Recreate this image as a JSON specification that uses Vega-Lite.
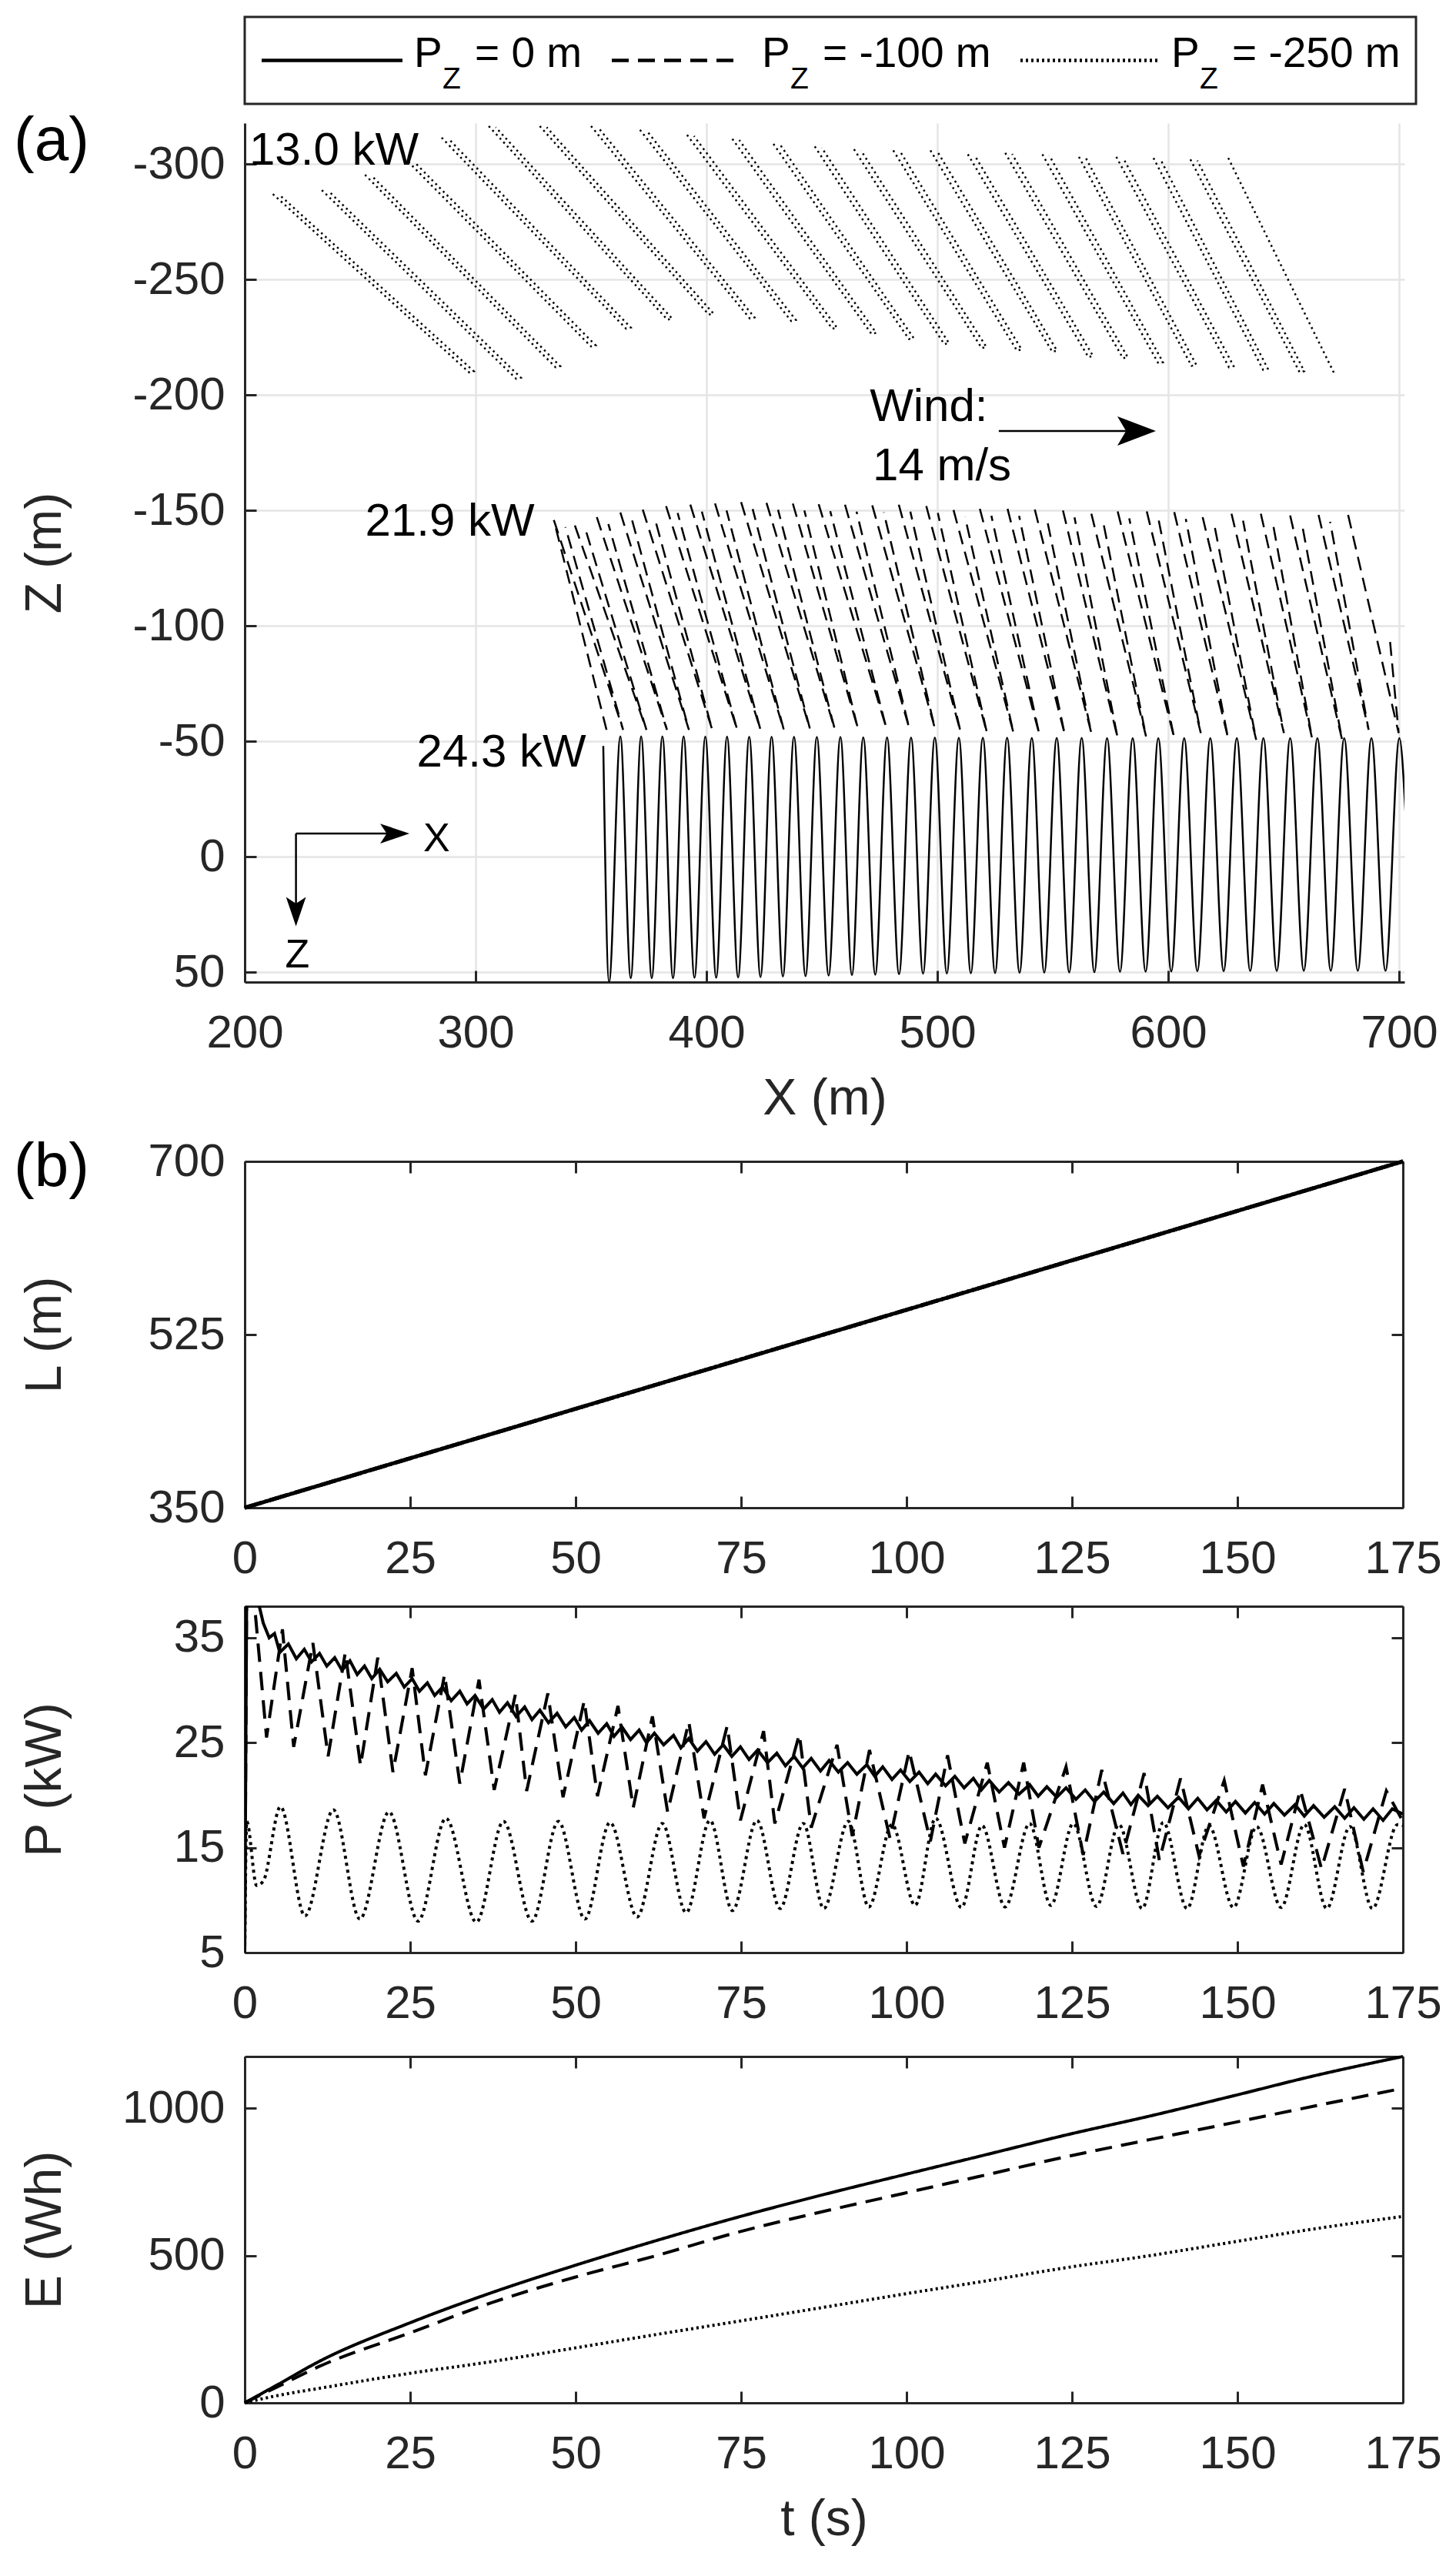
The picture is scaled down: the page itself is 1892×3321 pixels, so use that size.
{
  "$schema": "https://vega.github.io/schema/vega-lite/v6.json",
  "padding": {"left": 18, "top": 20, "right": 10, "bottom": 10},
  "bounds": "flush",
  "spacing": 0,
  "datasets": {
    "legend": [
      {"series": "0", "start": 22, "end": 205, "text_at": 220, "rest": "= 0 m"},
      {"series": "-100", "start": 477, "end": 637, "text_at": 672, "rest": "= -100 m"},
      {"series": "-250", "start": 1008, "end": 1186, "text_at": 1204, "rest": "= -250 m"}
    ],
    "traj_solid": [
      {"X": 355.3, "Z": -48}, {"X": 357.8, "Z": 54.2}, {"X": 362.7, "Z": -52.2}, {"X": 367.2, "Z": 52.5},
      {"X": 371.7, "Z": -52.2}, {"X": 376.3, "Z": 52.5}, {"X": 380.9, "Z": -52.2}, {"X": 385.5, "Z": 52.5},
      {"X": 390.1, "Z": -52.2}, {"X": 394.8, "Z": 52.3}, {"X": 399.5, "Z": -52.1}, {"X": 404.2, "Z": 52.3},
      {"X": 408.9, "Z": -52.1}, {"X": 413.7, "Z": 52.2}, {"X": 418.5, "Z": -52}, {"X": 423.4, "Z": 52},
      {"X": 428.2, "Z": -52}, {"X": 433.1, "Z": 51.8}, {"X": 437.9, "Z": -52}, {"X": 442.9, "Z": 51.6},
      {"X": 447.8, "Z": -51.9}, {"X": 452.9, "Z": 51.4}, {"X": 458.0, "Z": -51.9}, {"X": 463.0, "Z": 51.2},
      {"X": 467.9, "Z": -51.8}, {"X": 473.1, "Z": 51.0}, {"X": 478.2, "Z": -51.8}, {"X": 483.4, "Z": 50.8},
      {"X": 488.6, "Z": -51.7}, {"X": 493.8, "Z": 50.6}, {"X": 498.9, "Z": -51.7}, {"X": 504.1, "Z": 50.5},
      {"X": 509.3, "Z": -51.6}, {"X": 514.5, "Z": 50.4}, {"X": 519.7, "Z": -51.6}, {"X": 525.0, "Z": 50.3},
      {"X": 530.2, "Z": -51.6}, {"X": 535.6, "Z": 50.2}, {"X": 540.9, "Z": -51.5}, {"X": 546.3, "Z": 50.1},
      {"X": 551.7, "Z": -51.5}, {"X": 557.1, "Z": 50.0}, {"X": 562.5, "Z": -51.5}, {"X": 568.0, "Z": 49.9},
      {"X": 573.5, "Z": -51.4}, {"X": 579.1, "Z": 49.8}, {"X": 584.6, "Z": -51.4}, {"X": 590.2, "Z": 49.7},
      {"X": 595.7, "Z": -51.4}, {"X": 601.3, "Z": 49.6}, {"X": 606.9, "Z": -51.4}, {"X": 612.6, "Z": 49.5},
      {"X": 618.2, "Z": -51.4}, {"X": 624.0, "Z": 49.5}, {"X": 629.7, "Z": -51.4}, {"X": 635.5, "Z": 49.4},
      {"X": 641.2, "Z": -51.4}, {"X": 647.0, "Z": 49.4}, {"X": 652.8, "Z": -51.4}, {"X": 658.7, "Z": 49.3},
      {"X": 664.6, "Z": -51.4}, {"X": 670.4, "Z": 49.3}, {"X": 676.2, "Z": -51.4}, {"X": 682.1, "Z": 49.3},
      {"X": 688.0, "Z": -51.4}, {"X": 694.1, "Z": 49.3}, {"X": 700.1, "Z": -51.4}, {"X": 702.9, "Z": -16}
    ],
    "traj_dashed": [
      {"loop": 0, "X": 356.7, "Z": -55}, {"loop": 0, "X": 333.9, "Z": -145.8},
      {"loop": 1, "X": 333.9, "Z": -145.8}, {"loop": 1, "X": 363.9, "Z": -55}, {"loop": 1, "X": 338.9, "Z": -142.8},
      {"loop": 2, "X": 343.0, "Z": -143.5}, {"loop": 2, "X": 374.0, "Z": -55}, {"loop": 2, "X": 348.0, "Z": -140.5},
      {"loop": 3, "X": 352.5, "Z": -147.1}, {"loop": 3, "X": 382.9, "Z": -55}, {"loop": 3, "X": 357.5, "Z": -144.1},
      {"loop": 4, "X": 362.7, "Z": -149.1}, {"loop": 4, "X": 392.4, "Z": -55}, {"loop": 4, "X": 367.7, "Z": -146.1},
      {"loop": 5, "X": 372.4, "Z": -150.4}, {"loop": 5, "X": 402.5, "Z": -55}, {"loop": 5, "X": 377.4, "Z": -147.4},
      {"loop": 6, "X": 382.5, "Z": -151.9}, {"loop": 6, "X": 413.3, "Z": -55}, {"loop": 6, "X": 387.5, "Z": -148.9},
      {"loop": 7, "X": 393.0, "Z": -152.5}, {"loop": 7, "X": 423.4, "Z": -55}, {"loop": 7, "X": 398.0, "Z": -149.5},
      {"loop": 8, "X": 403.7, "Z": -153.0}, {"loop": 8, "X": 433.5, "Z": -55}, {"loop": 8, "X": 408.7, "Z": -150.0},
      {"loop": 9, "X": 415.0, "Z": -153.6}, {"loop": 9, "X": 444.8, "Z": -55.5}, {"loop": 9, "X": 420.0, "Z": -150.6},
      {"loop": 10, "X": 426.0, "Z": -153.3}, {"loop": 10, "X": 455.5, "Z": -55.5}, {"loop": 10, "X": 431.0, "Z": -150.3},
      {"loop": 11, "X": 437.4, "Z": -153.0}, {"loop": 11, "X": 465.6, "Z": -55.5}, {"loop": 11, "X": 442.4, "Z": -150.0},
      {"loop": 12, "X": 448.6, "Z": -152.7}, {"loop": 12, "X": 477.9, "Z": -55.8}, {"loop": 12, "X": 453.6, "Z": -149.7},
      {"loop": 13, "X": 460.0, "Z": -152.5}, {"loop": 13, "X": 487.8, "Z": -55.8}, {"loop": 13, "X": 465.0, "Z": -149.5},
      {"loop": 14, "X": 471.8, "Z": -152.2}, {"loop": 14, "X": 498.9, "Z": -55.8}, {"loop": 14, "X": 476.8, "Z": -149.2},
      {"loop": 15, "X": 483.3, "Z": -152.5}, {"loop": 15, "X": 510.0, "Z": -54.3}, {"loop": 15, "X": 488.3, "Z": -149.5},
      {"loop": 16, "X": 495.2, "Z": -151.9}, {"loop": 16, "X": 521.5, "Z": -53.6}, {"loop": 16, "X": 500.2, "Z": -148.9},
      {"loop": 17, "X": 507.0, "Z": -150.2}, {"loop": 17, "X": 533.0, "Z": -53.6}, {"loop": 17, "X": 512.0, "Z": -147.2},
      {"loop": 18, "X": 518.4, "Z": -150.7}, {"loop": 18, "X": 544.2, "Z": -52.9}, {"loop": 18, "X": 523.4, "Z": -147.7},
      {"loop": 19, "X": 530.4, "Z": -150.7}, {"loop": 19, "X": 555.2, "Z": -52.9}, {"loop": 19, "X": 535.4, "Z": -147.7},
      {"loop": 20, "X": 542.2, "Z": -150.4}, {"loop": 20, "X": 566.7, "Z": -53.6}, {"loop": 20, "X": 547.2, "Z": -147.4},
      {"loop": 21, "X": 554.4, "Z": -150.0}, {"loop": 21, "X": 578.1, "Z": -51.4}, {"loop": 21, "X": 559.4, "Z": -147.0},
      {"loop": 22, "X": 566.7, "Z": -148.6}, {"loop": 22, "X": 590.4, "Z": -52.1}, {"loop": 22, "X": 571.7, "Z": -145.6},
      {"loop": 23, "X": 578.1, "Z": -149.6}, {"loop": 23, "X": 602.6, "Z": -51.4}, {"loop": 23, "X": 583.1, "Z": -146.6},
      {"loop": 24, "X": 590.7, "Z": -149.6}, {"loop": 24, "X": 614.1, "Z": -53.6}, {"loop": 24, "X": 595.7, "Z": -146.6},
      {"loop": 25, "X": 602.6, "Z": -149.3}, {"loop": 25, "X": 625.9, "Z": -51.4}, {"loop": 25, "X": 607.6, "Z": -146.3},
      {"loop": 26, "X": 614.9, "Z": -147.1}, {"loop": 26, "X": 638.1, "Z": -50.7}, {"loop": 26, "X": 619.9, "Z": -144.1},
      {"loop": 27, "X": 627.4, "Z": -148.6}, {"loop": 27, "X": 650.1, "Z": -53.6}, {"loop": 27, "X": 632.4, "Z": -145.6},
      {"loop": 28, "X": 640.1, "Z": -148.6}, {"loop": 28, "X": 662.3, "Z": -51.4}, {"loop": 28, "X": 645.1, "Z": -145.6},
      {"loop": 29, "X": 652.8, "Z": -147.8}, {"loop": 29, "X": 675.3, "Z": -50.7}, {"loop": 29, "X": 657.8, "Z": -144.8},
      {"loop": 30, "X": 665.1, "Z": -148.1}, {"loop": 30, "X": 686.8, "Z": -55.0}, {"loop": 30, "X": 670.1, "Z": -145.1},
      {"loop": 31, "X": 677.9, "Z": -148.1}, {"loop": 31, "X": 699.8, "Z": -53.6}, {"loop": 31, "X": 696.0, "Z": -94.0}
    ],
    "traj_dotted": [
      {"loop": 1, "X": 212.2, "Z": -287.0}, {"loop": 1, "X": 297.2, "Z": -209.8}, {"loop": 1, "X": 299.2, "Z": -210.3}, {"loop": 1, "X": 215.2, "Z": -286.5},
      {"loop": 2, "X": 233.4, "Z": -288.7}, {"loop": 2, "X": 317.6, "Z": -207.0}, {"loop": 2, "X": 319.6, "Z": -207.5}, {"loop": 2, "X": 236.4, "Z": -288.2},
      {"loop": 3, "X": 252.1, "Z": -295.3}, {"loop": 3, "X": 334.6, "Z": -212.0}, {"loop": 3, "X": 336.6, "Z": -212.5}, {"loop": 3, "X": 255.1, "Z": -294.8},
      {"loop": 4, "X": 270.9, "Z": -300.9}, {"loop": 4, "X": 350.0, "Z": -221.0}, {"loop": 4, "X": 352.0, "Z": -221.5}, {"loop": 4, "X": 273.9, "Z": -300.4},
      {"loop": 5, "X": 285.3, "Z": -311.4}, {"loop": 5, "X": 365.2, "Z": -228.7}, {"loop": 5, "X": 367.2, "Z": -229.2}, {"loop": 5, "X": 288.3, "Z": -310.9},
      {"loop": 6, "X": 305.7, "Z": -316.4}, {"loop": 6, "X": 383.1, "Z": -232.6}, {"loop": 6, "X": 385.1, "Z": -233.1}, {"loop": 6, "X": 308.7, "Z": -315.9},
      {"loop": 7, "X": 327.8, "Z": -316.4}, {"loop": 7, "X": 401.0, "Z": -234.8}, {"loop": 7, "X": 403.0, "Z": -235.3}, {"loop": 7, "X": 330.8, "Z": -315.9},
      {"loop": 8, "X": 350.0, "Z": -316.4}, {"loop": 8, "X": 418.8, "Z": -233.1}, {"loop": 8, "X": 420.8, "Z": -233.6}, {"loop": 8, "X": 353.0, "Z": -315.9},
      {"loop": 9, "X": 371.2, "Z": -314.8}, {"loop": 9, "X": 436.7, "Z": -232.0}, {"loop": 9, "X": 438.7, "Z": -232.5}, {"loop": 9, "X": 374.2, "Z": -314.3},
      {"loop": 10, "X": 391.6, "Z": -312.6}, {"loop": 10, "X": 454.5, "Z": -228.7}, {"loop": 10, "X": 456.5, "Z": -229.2}, {"loop": 10, "X": 394.6, "Z": -312.1},
      {"loop": 11, "X": 411.2, "Z": -310.9}, {"loop": 11, "X": 471.5, "Z": -226.4}, {"loop": 11, "X": 473.5, "Z": -226.9}, {"loop": 11, "X": 414.2, "Z": -310.4},
      {"loop": 12, "X": 429.0, "Z": -308.7}, {"loop": 12, "X": 487.7, "Z": -224.2}, {"loop": 12, "X": 489.7, "Z": -224.7}, {"loop": 12, "X": 432.0, "Z": -308.2},
      {"loop": 13, "X": 446.9, "Z": -307.6}, {"loop": 13, "X": 503.0, "Z": -222.0}, {"loop": 13, "X": 505.0, "Z": -222.5}, {"loop": 13, "X": 449.9, "Z": -307.1},
      {"loop": 14, "X": 463.9, "Z": -306.4}, {"loop": 14, "X": 519.2, "Z": -220.3}, {"loop": 14, "X": 521.2, "Z": -220.8}, {"loop": 14, "X": 466.9, "Z": -305.9},
      {"loop": 15, "X": 480.9, "Z": -305.9}, {"loop": 15, "X": 534.5, "Z": -219.2}, {"loop": 15, "X": 536.5, "Z": -219.7}, {"loop": 15, "X": 483.9, "Z": -305.4},
      {"loop": 16, "X": 497.0, "Z": -305.9}, {"loop": 16, "X": 549.8, "Z": -218.7}, {"loop": 16, "X": 551.8, "Z": -219.2}, {"loop": 16, "X": 500.0, "Z": -305.4},
      {"loop": 17, "X": 513.2, "Z": -304.2}, {"loop": 17, "X": 565.4, "Z": -216.4}, {"loop": 17, "X": 567.4, "Z": -216.9}, {"loop": 17, "X": 516.2, "Z": -303.7},
      {"loop": 18, "X": 529.4, "Z": -304.8}, {"loop": 18, "X": 580.4, "Z": -215.9}, {"loop": 18, "X": 582.4, "Z": -216.4}, {"loop": 18, "X": 532.4, "Z": -304.3},
      {"loop": 19, "X": 545.5, "Z": -304.2}, {"loop": 19, "X": 595.7, "Z": -213.7}, {"loop": 19, "X": 597.7, "Z": -214.2}, {"loop": 19, "X": 548.5, "Z": -303.7},
      {"loop": 20, "X": 561.3, "Z": -303.1}, {"loop": 20, "X": 610.1, "Z": -212.6}, {"loop": 20, "X": 612.1, "Z": -213.1}, {"loop": 20, "X": 564.3, "Z": -302.6},
      {"loop": 21, "X": 577.5, "Z": -303.1}, {"loop": 21, "X": 626.3, "Z": -212.0}, {"loop": 21, "X": 628.3, "Z": -212.5}, {"loop": 21, "X": 580.5, "Z": -302.6},
      {"loop": 22, "X": 593.6, "Z": -302.6}, {"loop": 22, "X": 641.1, "Z": -210.9}, {"loop": 22, "X": 643.1, "Z": -211.4}, {"loop": 22, "X": 596.6, "Z": -302.1},
      {"loop": 23, "X": 609.6, "Z": -302.0}, {"loop": 23, "X": 656.9, "Z": -209.8}, {"loop": 23, "X": 658.9, "Z": -210.3}, {"loop": 23, "X": 612.6, "Z": -301.5},
      {"loop": 24, "X": 626.0, "Z": -302.6}, {"loop": 24, "X": 672.2, "Z": -208.7}
    ],
    "notes_a": [
      {"text": "13.0 kW", "X": 202, "Z": -299.8},
      {"text": "21.9 kW", "X": 252.2, "Z": -139.1},
      {"text": "24.3 kW", "X": 274.5, "Z": -39.1},
      {"text": "Wind:", "X": 470.7, "Z": -188.7},
      {"text": "14 m/s", "X": 472, "Z": -163}
    ],
    "icon_labels": [
      {"text": "X", "X": 277.3, "Z": -2.3},
      {"text": "Z", "X": 217.5, "Z": 47.8}
    ],
    "arrow_lines": [
      {"X": 526.6, "Z": -184.4, "X2": 587, "Z2": -184.4},
      {"X": 222.2, "Z": -10.1, "X2": 266, "Z2": -10.1},
      {"X": 222.2, "Z": -10.1, "X2": 222.2, "Z2": 24}
    ],
    "L": [
      {"series": "0", "t": 0, "L": 350}, {"series": "0", "t": 175, "L": 700},
      {"series": "-100", "t": 0, "L": 350}, {"series": "-100", "t": 175, "L": 700},
      {"series": "-250", "t": 0, "L": 350}, {"series": "-250", "t": 175, "L": 700}
    ],
    "P_solid": [
      {"t": 0, "P": 5}, {"t": 0.3, "P": 40}, {"t": 1.2, "P": 40}, {"t": 2.2, "P": 38}, {"t": 2.8, "P": 36.4},
      {"t": 3.7, "P": 35.0}, {"t": 4.5, "P": 35.4}, {"t": 5.3, "P": 33.6}, {"t": 6.6, "P": 34.4}, {"t": 7.8, "P": 33.0},
      {"t": 9.0, "P": 33.9}, {"t": 10.1, "P": 32.7}, {"t": 11.3, "P": 33.5}, {"t": 12.4, "P": 32.3}, {"t": 13.6, "P": 33.1},
      {"t": 14.7, "P": 31.9}, {"t": 15.9, "P": 32.8}, {"t": 17.0, "P": 31.5}, {"t": 18.1, "P": 32.3}, {"t": 19.2, "P": 31.1},
      {"t": 20.4, "P": 32.0}, {"t": 21.6, "P": 30.8}, {"t": 22.9, "P": 31.6}, {"t": 24.1, "P": 30.3}, {"t": 25.3, "P": 31.1},
      {"t": 26.4, "P": 29.9}, {"t": 27.6, "P": 30.7}, {"t": 28.7, "P": 29.5}, {"t": 29.9, "P": 30.3}, {"t": 31.2, "P": 29.0},
      {"t": 32.5, "P": 29.9}, {"t": 33.6, "P": 28.7}, {"t": 34.8, "P": 29.5}, {"t": 36.1, "P": 28.2}, {"t": 37.4, "P": 29.1},
      {"t": 38.5, "P": 27.9}, {"t": 39.7, "P": 28.8}, {"t": 41.0, "P": 27.5}, {"t": 42.3, "P": 28.4}, {"t": 43.4, "P": 27.2},
      {"t": 44.6, "P": 28.1}, {"t": 45.9, "P": 26.9}, {"t": 47.2, "P": 27.8}, {"t": 48.5, "P": 26.5}, {"t": 49.8, "P": 27.4},
      {"t": 50.9, "P": 26.2}, {"t": 52.1, "P": 27.1}, {"t": 53.4, "P": 25.9}, {"t": 54.7, "P": 26.8}, {"t": 55.8, "P": 25.6},
      {"t": 57.0, "P": 26.5}, {"t": 58.3, "P": 25.3}, {"t": 59.6, "P": 26.2}, {"t": 60.7, "P": 25.0}, {"t": 61.9, "P": 25.9},
      {"t": 63.3, "P": 24.8}, {"t": 64.8, "P": 25.7}, {"t": 65.9, "P": 24.5}, {"t": 67.1, "P": 25.4}, {"t": 68.4, "P": 24.2},
      {"t": 69.7, "P": 25.1}, {"t": 71.0, "P": 23.9}, {"t": 72.3, "P": 24.8}, {"t": 73.6, "P": 23.7}, {"t": 74.9, "P": 24.6},
      {"t": 76.2, "P": 23.4}, {"t": 77.5, "P": 24.3}, {"t": 79.0, "P": 23.1}, {"t": 80.4, "P": 24.0}, {"t": 81.7, "P": 22.8},
      {"t": 83.0, "P": 23.7}, {"t": 84.3, "P": 22.6}, {"t": 85.6, "P": 23.5}, {"t": 87.0, "P": 22.3}, {"t": 88.3, "P": 23.3},
      {"t": 89.7, "P": 22.2}, {"t": 91.1, "P": 23.1}, {"t": 92.5, "P": 22.0}, {"t": 94.0, "P": 22.9}, {"t": 95.2, "P": 21.8},
      {"t": 96.4, "P": 22.7}, {"t": 97.8, "P": 21.5}, {"t": 99.1, "P": 22.4}, {"t": 100.5, "P": 21.3}, {"t": 101.9, "P": 22.2},
      {"t": 103.2, "P": 21.1}, {"t": 104.4, "P": 22.0}, {"t": 105.9, "P": 20.9}, {"t": 107.3, "P": 21.8}, {"t": 108.7, "P": 20.7},
      {"t": 110.1, "P": 21.6}, {"t": 111.3, "P": 20.5}, {"t": 112.5, "P": 21.4}, {"t": 114.0, "P": 20.3}, {"t": 115.4, "P": 21.2},
      {"t": 117.0, "P": 20.1}, {"t": 118.6, "P": 21.0}, {"t": 119.9, "P": 19.9}, {"t": 121.2, "P": 20.8}, {"t": 122.7, "P": 19.8},
      {"t": 124.1, "P": 20.7}, {"t": 125.6, "P": 19.6}, {"t": 127.0, "P": 20.5}, {"t": 128.4, "P": 19.4}, {"t": 129.8, "P": 20.3},
      {"t": 131.3, "P": 19.2}, {"t": 132.7, "P": 20.2}, {"t": 133.9, "P": 19.1}, {"t": 135.0, "P": 20.0}, {"t": 136.5, "P": 19.0},
      {"t": 137.9, "P": 19.9}, {"t": 139.5, "P": 18.8}, {"t": 141.1, "P": 19.8}, {"t": 142.6, "P": 18.7}, {"t": 144.0, "P": 19.7},
      {"t": 145.4, "P": 18.6}, {"t": 146.8, "P": 19.5}, {"t": 148.3, "P": 18.4}, {"t": 149.7, "P": 19.4}, {"t": 151.2, "P": 18.3},
      {"t": 152.6, "P": 19.3}, {"t": 154.1, "P": 18.2}, {"t": 155.5, "P": 19.2}, {"t": 157.1, "P": 18.1}, {"t": 158.7, "P": 19.1},
      {"t": 160.1, "P": 18.0}, {"t": 161.5, "P": 19.0}, {"t": 163.1, "P": 17.9}, {"t": 164.7, "P": 18.9}, {"t": 166.2, "P": 17.8},
      {"t": 167.6, "P": 18.8}, {"t": 169.1, "P": 17.7}, {"t": 170.5, "P": 18.7}, {"t": 172.0, "P": 17.6}, {"t": 173.4, "P": 18.7},
      {"t": 175.0, "P": 18.2}
    ],
    "P_dashed": [
      {"t": 0, "P": 5}, {"t": 0.3, "P": 40}, {"t": 1.5, "P": 38}, {"t": 3.3, "P": 25.5}, {"t": 5.7, "P": 35.8},
      {"t": 7.4, "P": 24.6}, {"t": 10.3, "P": 34.5}, {"t": 12.6, "P": 23.7}, {"t": 15.2, "P": 33.6}, {"t": 17.5, "P": 22.8},
      {"t": 20.1, "P": 33.1}, {"t": 22.4, "P": 22.2}, {"t": 25.3, "P": 32.1}, {"t": 27.3, "P": 21.9}, {"t": 30.2, "P": 31.5},
      {"t": 32.5, "P": 21.1}, {"t": 35.4, "P": 31.0}, {"t": 37.7, "P": 20.5}, {"t": 40.9, "P": 29.6}, {"t": 42.6, "P": 20.4},
      {"t": 45.8, "P": 29.7}, {"t": 48.1, "P": 19.8}, {"t": 51.3, "P": 29.0}, {"t": 53.3, "P": 19.9}, {"t": 56.4, "P": 28.5},
      {"t": 58.7, "P": 18.8}, {"t": 61.6, "P": 27.5}, {"t": 63.9, "P": 18.4}, {"t": 67.1, "P": 27.0}, {"t": 69.4, "P": 17.8},
      {"t": 72.9, "P": 26.6}, {"t": 74.9, "P": 17.6}, {"t": 78.4, "P": 26.1}, {"t": 80.1, "P": 17.3}, {"t": 83.8, "P": 25.8},
      {"t": 85.6, "P": 16.9}, {"t": 89.5, "P": 24.8}, {"t": 91.8, "P": 16.1}, {"t": 94.4, "P": 24.3}, {"t": 97.5, "P": 15.9},
      {"t": 100.4, "P": 24.2}, {"t": 103.6, "P": 15.6}, {"t": 106.2, "P": 23.8}, {"t": 108.8, "P": 15.4}, {"t": 112.2, "P": 23.1},
      {"t": 114.8, "P": 15.0}, {"t": 117.7, "P": 23.1}, {"t": 120.0, "P": 15.0}, {"t": 124.1, "P": 22.7}, {"t": 126.7, "P": 14.3},
      {"t": 129.5, "P": 22.4}, {"t": 132.7, "P": 14.4}, {"t": 135.9, "P": 22.1}, {"t": 138.2, "P": 13.8}, {"t": 141.4, "P": 21.6},
      {"t": 144.2, "P": 14.2}, {"t": 148.0, "P": 21.4}, {"t": 150.9, "P": 13.2}, {"t": 153.8, "P": 21.0}, {"t": 156.6, "P": 13.4},
      {"t": 159.5, "P": 20.5}, {"t": 162.7, "P": 13.0}, {"t": 166.2, "P": 20.6}, {"t": 169.0, "P": 12.7}, {"t": 172.5, "P": 20.4},
      {"t": 175.0, "P": 17.5}
    ],
    "P_dotted": [
      {"t": 0, "P": 5}, {"t": 0.3, "P": 17.5}, {"t": 1.8, "P": 11.4}, {"t": 2.8, "P": 11.8}, {"t": 5.4, "P": 18.9},
      {"t": 9.1, "P": 8.5}, {"t": 13.4, "P": 18.6}, {"t": 17.4, "P": 8.2}, {"t": 21.8, "P": 18.4}, {"t": 26.2, "P": 8.0},
      {"t": 30.4, "P": 17.8}, {"t": 35.0, "P": 7.9}, {"t": 39.1, "P": 17.5}, {"t": 43.4, "P": 8.0}, {"t": 47.4, "P": 17.5},
      {"t": 51.4, "P": 8.2}, {"t": 55.2, "P": 17.4}, {"t": 59.3, "P": 8.4}, {"t": 63.1, "P": 17.3}, {"t": 66.7, "P": 8.8},
      {"t": 70.3, "P": 17.6}, {"t": 73.7, "P": 9.0}, {"t": 77.4, "P": 17.6}, {"t": 80.9, "P": 9.2}, {"t": 84.4, "P": 17.3},
      {"t": 87.5, "P": 9.2}, {"t": 91.2, "P": 17.5}, {"t": 94.3, "P": 9.35}, {"t": 97.8, "P": 17.2}, {"t": 101.3, "P": 9.5},
      {"t": 104.4, "P": 17.8}, {"t": 108.3, "P": 9.3}, {"t": 111.4, "P": 17.1}, {"t": 114.9, "P": 9.35}, {"t": 118.6, "P": 17.3},
      {"t": 121.8, "P": 9.5}, {"t": 125.2, "P": 17.3}, {"t": 128.7, "P": 9.4}, {"t": 132.1, "P": 17.2}, {"t": 135.6, "P": 9.2},
      {"t": 138.8, "P": 17.4}, {"t": 142.4, "P": 9.2}, {"t": 145.7, "P": 17.1}, {"t": 149.4, "P": 9.3}, {"t": 152.9, "P": 17.0},
      {"t": 156.6, "P": 9.3}, {"t": 160.1, "P": 17.2}, {"t": 163.5, "P": 9.2}, {"t": 167.0, "P": 17.0}, {"t": 170.4, "P": 9.2},
      {"t": 174.2, "P": 17.2}, {"t": 175.0, "P": 17.1}
    ],
    "E": [
      {"series": "0", "t": 0, "E": 0}, {"series": "0", "t": 5, "E": 62}, {"series": "0", "t": 11.2, "E": 140},
      {"series": "0", "t": 25, "E": 272}, {"series": "0", "t": 37.3, "E": 374}, {"series": "0", "t": 49.8, "E": 466},
      {"series": "0", "t": 62.2, "E": 551}, {"series": "0", "t": 74.6, "E": 631}, {"series": "0", "t": 87.1, "E": 705},
      {"series": "0", "t": 99.5, "E": 774}, {"series": "0", "t": 111.9, "E": 842}, {"series": "0", "t": 124.4, "E": 911},
      {"series": "0", "t": 136.8, "E": 974}, {"series": "0", "t": 149.3, "E": 1042}, {"series": "0", "t": 161.7, "E": 1111},
      {"series": "0", "t": 175, "E": 1176},
      {"series": "-100", "t": 0, "E": 0}, {"series": "-100", "t": 5, "E": 55}, {"series": "-100", "t": 11.2, "E": 123},
      {"series": "-100", "t": 24.9, "E": 237}, {"series": "-100", "t": 37.3, "E": 340}, {"series": "-100", "t": 49.8, "E": 426},
      {"series": "-100", "t": 62.2, "E": 500}, {"series": "-100", "t": 74.6, "E": 580}, {"series": "-100", "t": 87.1, "E": 648},
      {"series": "-100", "t": 99.5, "E": 711}, {"series": "-100", "t": 112, "E": 774}, {"series": "-100", "t": 124.4, "E": 837},
      {"series": "-100", "t": 136.8, "E": 894}, {"series": "-100", "t": 149.3, "E": 951}, {"series": "-100", "t": 161.7, "E": 1008},
      {"series": "-100", "t": 175, "E": 1068},
      {"series": "-250", "t": 0, "E": 0}, {"series": "-250", "t": 5, "E": 25}, {"series": "-250", "t": 11.2, "E": 49},
      {"series": "-250", "t": 24.9, "E": 100}, {"series": "-250", "t": 37.3, "E": 140}, {"series": "-250", "t": 49.8, "E": 186},
      {"series": "-250", "t": 62.2, "E": 232}, {"series": "-250", "t": 74.6, "E": 277}, {"series": "-250", "t": 87.1, "E": 323},
      {"series": "-250", "t": 99.5, "E": 369}, {"series": "-250", "t": 112, "E": 414}, {"series": "-250", "t": 124.4, "E": 460},
      {"series": "-250", "t": 136.8, "E": 500}, {"series": "-250", "t": 149.3, "E": 546}, {"series": "-250", "t": 161.7, "E": 591},
      {"series": "-250", "t": 175, "E": 633}
    ]
  },
  "vconcat": [
    {
      "width": 1522,
      "height": 113,
      "view": {"stroke": "#262626", "strokeWidth": 3},
      "data": {"name": "legend"},
      "layer": [
        {
          "mark": {"type": "rule", "color": "black", "strokeWidth": 4.5},
          "encoding": {
            "x": {"field": "start", "type": "quantitative", "scale": {"domain": [0, 1522], "nice": false}, "axis": null},
            "x2": {"field": "end"},
            "y": {"datum": 0.5, "type": "quantitative", "scale": {"domain": [0, 1]}, "axis": null},
            "strokeDash": {"field": "series", "type": "nominal", "scale": {"domain": ["0", "-100", "-250"], "range": [[1, 0], [22, 12], [3, 4]]}, "legend": null}
          }
        },
        {
          "mark": {"type": "text", "text": "P", "align": "left", "baseline": "alphabetic", "fontSize": 55, "dy": 8, "color": "black"},
          "encoding": {"x": {"field": "text_at", "type": "quantitative"}, "y": {"datum": 0.5, "type": "quantitative"}}
        },
        {
          "mark": {"type": "text", "text": "Z", "align": "left", "baseline": "alphabetic", "fontSize": 39, "dx": 37, "dy": 36, "color": "black"},
          "encoding": {"x": {"field": "text_at", "type": "quantitative"}, "y": {"datum": 0.5, "type": "quantitative"}}
        },
        {
          "mark": {"type": "text", "align": "left", "baseline": "alphabetic", "fontSize": 55, "dx": 79, "dy": 8, "color": "black"},
          "encoding": {"x": {"field": "text_at", "type": "quantitative"}, "y": {"datum": 0.5, "type": "quantitative"}, "text": {"field": "rest"}}
        }
      ]
    },
    {"width": 10, "height": 25, "data": {"values": [{}]}, "mark": {"type": "point", "opacity": 0}, "encoding": {}},
    {
      "width": 1507,
      "height": 1116,
      "layer": [
        {
          "data": {"name": "traj_solid"},
          "mark": {"type": "line", "interpolate": "monotone", "color": "black", "strokeWidth": 2.5, "clip": true},
          "encoding": {
            "x": {"field": "X", "type": "quantitative", "scale": {"domain": [200, 702.3], "nice": false, "zero": false},
                  "axis": {"title": "X (m)", "values": [200, 300, 400, 500, 600, 700], "grid": true, "gridColor": "#e5e5e5", "gridWidth": 2.5, "labelExpr": "'' + datum.value"}},
            "y": {"field": "Z", "type": "quantitative", "scale": {"domain": [-317.7, 54.2], "nice": false, "zero": false, "reverse": true},
                  "axis": {"title": "Z (m)", "values": [-300, -250, -200, -150, -100, -50, 0, 50], "grid": true, "gridColor": "#e5e5e5", "gridWidth": 2.5, "labelExpr": "'' + datum.value"}}
          }
        },
        {
          "data": {"name": "traj_dashed"},
          "mark": {"type": "line", "color": "black", "strokeWidth": 2.5, "strokeDash": [18, 10], "clip": true},
          "encoding": {
            "x": {"field": "X", "type": "quantitative"},
            "y": {"field": "Z", "type": "quantitative"},
            "detail": {"field": "loop", "type": "nominal"},
            "order": {"value": null}
          }
        },
        {
          "data": {"name": "traj_dotted"},
          "mark": {"type": "line", "color": "black", "strokeWidth": 2.5, "strokeDash": [2.5, 4.5], "clip": true},
          "encoding": {
            "x": {"field": "X", "type": "quantitative"},
            "y": {"field": "Z", "type": "quantitative"},
            "detail": {"field": "loop", "type": "nominal"},
            "order": {"value": null}
          }
        },
        {
          "data": {"name": "arrow_lines"},
          "mark": {"type": "rule", "color": "black", "strokeWidth": 2.5},
          "encoding": {
            "x": {"field": "X", "type": "quantitative"},
            "x2": {"field": "X2"},
            "y": {"field": "Z", "type": "quantitative"},
            "y2": {"field": "Z2"}
          }
        },
        {
          "data": {"values": [{"X": 586.3, "Z": -184.4}]},
          "mark": {"type": "point", "filled": true, "color": "black", "opacity": 1, "size": 2500, "strokeWidth": 0, "shape": "M1,0L-1,-0.76L-0.55,0L-1,0.76Z"},
          "encoding": {"x": {"field": "X", "type": "quantitative"}, "y": {"field": "Z", "type": "quantitative"}}
        },
        {
          "data": {"values": [{"X": 265.0, "Z": -10.1}]},
          "mark": {"type": "point", "filled": true, "color": "black", "opacity": 1, "size": 1444, "strokeWidth": 0, "shape": "M1,0L-1,-0.68L-0.55,0L-1,0.68Z"},
          "encoding": {"x": {"field": "X", "type": "quantitative"}, "y": {"field": "Z", "type": "quantitative"}}
        },
        {
          "data": {"values": [{"X": 222.2, "Z": 23.7}]},
          "mark": {"type": "point", "filled": true, "color": "black", "opacity": 1, "size": 1444, "strokeWidth": 0, "shape": "M0,1L-0.68,-1L0,-0.55L0.68,-1Z"},
          "encoding": {"x": {"field": "X", "type": "quantitative"}, "y": {"field": "Z", "type": "quantitative"}}
        },
        {
          "data": {"name": "notes_a"},
          "mark": {"type": "text", "align": "left", "baseline": "alphabetic", "fontSize": 60, "color": "black"},
          "encoding": {"x": {"field": "X", "type": "quantitative"}, "y": {"field": "Z", "type": "quantitative"}, "text": {"field": "text"}}
        },
        {
          "data": {"name": "icon_labels"},
          "mark": {"type": "text", "align": "left", "baseline": "alphabetic", "fontSize": 52, "color": "black"},
          "encoding": {"x": {"field": "X", "type": "quantitative"}, "y": {"field": "Z", "type": "quantitative"}, "text": {"field": "text"}}
        },
        {
          "data": {"values": [{"text": "(a)", "X": 200, "Z": -300}]},
          "mark": {"type": "text", "align": "left", "baseline": "alphabetic", "fontSize": 80, "dx": -300, "dy": -5, "color": "black"},
          "encoding": {"x": {"field": "X", "type": "quantitative"}, "y": {"field": "Z", "type": "quantitative"}, "text": {"field": "text"}}
        }
      ]
    },
    {"width": 10, "height": 233, "data": {"values": [{}]}, "mark": {"type": "point", "opacity": 0}, "encoding": {}},
    {
      "width": 1505,
      "height": 450,
      "resolve": {"axis": {"x": "independent", "y": "independent"}},
      "layer": [
        {
          "data": {"name": "L"},
          "mark": {"type": "line", "color": "black", "strokeWidth": 5},
          "encoding": {
            "x": {"field": "t", "type": "quantitative", "scale": {"domain": [0, 175], "nice": false}, "axis": {"title": null, "values": [0, 25, 50, 75, 100, 125, 150, 175], "labelExpr": "'' + datum.value"}},
            "y": {"field": "L", "type": "quantitative", "scale": {"domain": [350, 700], "nice": false, "zero": false}, "axis": {"title": "L (m)", "values": [350, 525, 700], "labelExpr": "'' + datum.value"}},
            "strokeDash": {"field": "series", "type": "nominal", "scale": {"domain": ["0", "-100", "-250"], "range": [[1, 0], [24, 13], [4, 5]]}, "legend": null}
          }
        },
        {
          "data": {"name": "L"},
          "mark": {"type": "point", "opacity": 0},
          "encoding": {
            "x": {"field": "t", "type": "quantitative", "axis": {"orient": "top", "labels": false, "title": null, "values": [0, 25, 50, 75, 100, 125, 150, 175]}},
            "y": {"field": "L", "type": "quantitative", "axis": {"orient": "right", "labels": false, "title": null, "values": [350, 525, 700]}}
          }
        },
        {
          "data": {"values": [{"text": "(b)", "t": 0, "L": 700}]},
          "mark": {"type": "text", "align": "left", "baseline": "alphabetic", "fontSize": 80, "dx": -300, "dy": 32, "color": "black"},
          "encoding": {"x": {"field": "t", "type": "quantitative", "axis": null}, "y": {"field": "L", "type": "quantitative", "axis": null}, "text": {"field": "text"}}
        }
      ]
    },
    {"width": 10, "height": 128, "data": {"values": [{}]}, "mark": {"type": "point", "opacity": 0}, "encoding": {}},
    {
      "width": 1505,
      "height": 450,
      "resolve": {"axis": {"x": "independent", "y": "independent"}},
      "layer": [
        {
          "data": {"name": "P_solid"},
          "mark": {"type": "line", "color": "black", "strokeWidth": 4, "clip": true},
          "encoding": {
            "x": {"field": "t", "type": "quantitative", "scale": {"domain": [0, 175], "nice": false}, "axis": {"title": null, "values": [0, 25, 50, 75, 100, 125, 150, 175], "labelExpr": "'' + datum.value"}},
            "y": {"field": "P", "type": "quantitative", "scale": {"domain": [5, 38], "nice": false, "zero": false}, "axis": {"title": "P (kW)", "values": [5, 15, 25, 35], "labelExpr": "'' + datum.value"}}
          }
        },
        {
          "data": {"name": "P_dashed"},
          "mark": {"type": "line", "color": "black", "strokeWidth": 4, "strokeDash": [24, 13], "clip": true},
          "encoding": {
            "x": {"field": "t", "type": "quantitative", "axis": null},
            "y": {"field": "P", "type": "quantitative", "axis": null}
          }
        },
        {
          "data": {"name": "P_dotted"},
          "mark": {"type": "line", "interpolate": "monotone", "color": "black", "strokeWidth": 4, "strokeDash": [4, 5], "clip": true},
          "encoding": {
            "x": {"field": "t", "type": "quantitative", "axis": null},
            "y": {"field": "P", "type": "quantitative", "axis": null}
          }
        },
        {
          "data": {"name": "P_dotted"},
          "mark": {"type": "point", "opacity": 0},
          "encoding": {
            "x": {"field": "t", "type": "quantitative", "axis": {"orient": "top", "labels": false, "title": null, "values": [0, 25, 50, 75, 100, 125, 150, 175]}},
            "y": {"field": "P", "type": "quantitative", "axis": {"orient": "right", "labels": false, "title": null, "values": [5, 15, 25, 35]}}
          }
        }
      ]
    },
    {"width": 10, "height": 135, "data": {"values": [{}]}, "mark": {"type": "point", "opacity": 0}, "encoding": {}},
    {
      "width": 1505,
      "height": 450,
      "resolve": {"axis": {"x": "independent", "y": "independent"}},
      "layer": [
        {
          "data": {"name": "E"},
          "mark": {"type": "line", "interpolate": "monotone", "color": "black", "strokeWidth": 4},
          "encoding": {
            "x": {"field": "t", "type": "quantitative", "scale": {"domain": [0, 175], "nice": false}, "axis": {"title": "t (s)", "values": [0, 25, 50, 75, 100, 125, 150, 175], "labelExpr": "'' + datum.value"}},
            "y": {"field": "E", "type": "quantitative", "scale": {"domain": [0, 1176], "nice": false}, "axis": {"title": "E (Wh)", "values": [0, 500, 1000], "labelExpr": "'' + datum.value"}},
            "strokeDash": {"field": "series", "type": "nominal", "scale": {"domain": ["0", "-100", "-250"], "range": [[1, 0], [22, 12], [4, 4]]}, "legend": null}
          }
        },
        {
          "data": {"name": "E"},
          "mark": {"type": "point", "opacity": 0},
          "encoding": {
            "x": {"field": "t", "type": "quantitative", "axis": {"orient": "top", "labels": false, "title": null, "values": [0, 25, 50, 75, 100, 125, 150, 175]}},
            "y": {"field": "E", "type": "quantitative", "axis": {"orient": "right", "labels": false, "title": null, "values": [0, 500, 1000]}}
          }
        }
      ]
    }
  ],
  "config": {
    "font": "Liberation Sans",
    "view": {"stroke": null},
    "axis": {
      "domainColor": "#262626",
      "domainWidth": 3,
      "tickColor": "#262626",
      "tickWidth": 3,
      "tickSize": -15,
      "labelColor": "#262626",
      "labelFont": "Liberation Sans",
      "labelFontSize": 60,
      "labelFlush": false,
      "labelOverlap": false,
      "titleColor": "#262626",
      "titleFont": "Liberation Sans",
      "titleFontSize": 66,
      "titleFontWeight": "normal",
      "grid": false
    },
    "axisBottom": {"labelBaseline": "alphabetic", "labelPadding": 99, "titleBaseline": "alphabetic", "titleY": 171},
    "axisLeft": {"labelPadding": 41, "titleX": -240, "titleBaseline": "alphabetic"}
  }
}
